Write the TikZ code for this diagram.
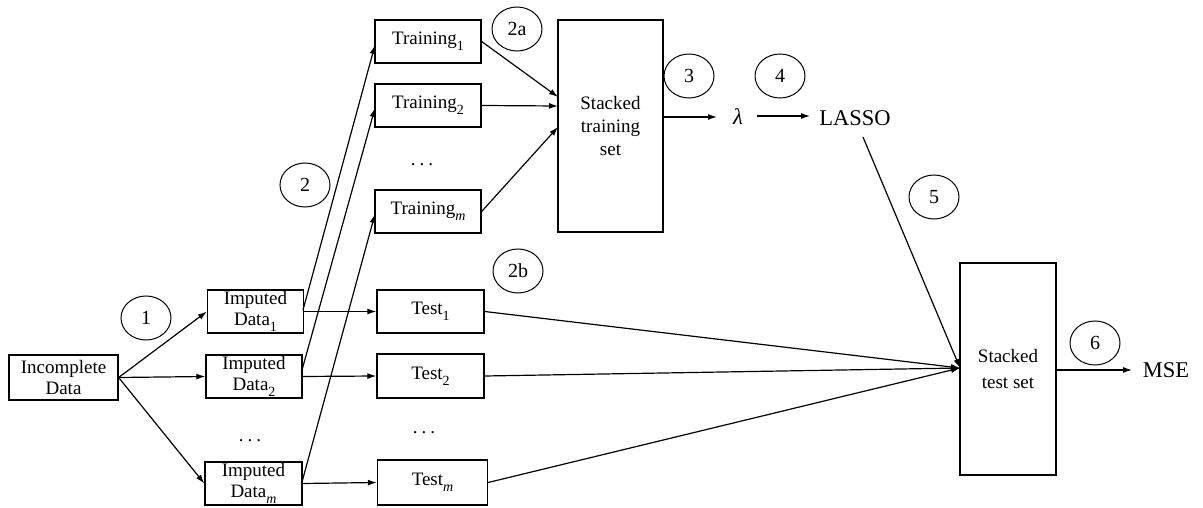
\documentclass[tikz,border=0pt]{standalone}
\usepackage{fontspec}
\setmainfont{Liberation Serif}
\usetikzlibrary{arrows.meta,shapes.geometric}
\newcommand{\mysub}[1]{\raisebox{-0.3em}{\fontsize{14}{14}\selectfont #1}}
\newcommand{\mydots}{.\hspace{4pt}.\hspace{4pt}.}
\begin{document}
\begin{tikzpicture}[x=1pt,y=-1pt,
 box/.style={draw, line width=1.3pt, inner sep=0pt, align=center, font=\fontsize{19}{21}\selectfont},
 num/.style={draw, ellipse, line width=1pt, minimum width=50pt, minimum height=44pt, inner sep=0pt, font=\fontsize{20}{20}\selectfont},
 arr/.style={-{Latex[length=9pt,width=6pt]}, line width=1.2pt},
 big/.style={font=\fontsize{22.5}{24}\selectfont, inner sep=0pt},
 dots/.style={font=\fontsize{19}{19}\selectfont, inner sep=0pt}]
\useasboundingbox (0,0) rectangle (1203,508);

% left column
\node[box, minimum width=109pt, minimum height=45pt] (inc) at (63.5,377.5) {Incomplete\\Data};
\node[box, minimum width=96pt, minimum height=43pt] (im1) at (255.5,311.5) {Imputed\\Data\mysub{1}};
\node[box, minimum width=96pt, minimum height=43pt] (im2) at (254,376.5) {Imputed\\Data\mysub{2}};
\node[dots] (imd) at (250,441) {\mydots};
\node[box, minimum width=97pt, minimum height=43pt] (imm) at (253.5,483.5) {Imputed\\Data\mysub{\itshape m}};

% training column
\node[box, minimum width=106pt, minimum height=43pt] (t1) at (428,41.5) {Training\mysub{1}};
\node[box, minimum width=106pt, minimum height=43pt] (t2) at (428,105.5) {Training\mysub{2}};
\node[dots] (td) at (422,165) {\mydots};
\node[box, minimum width=106pt, minimum height=43pt] (tm) at (428,211.5) {Training\mysub{\itshape m}};

% test column
\node[box, minimum width=107pt, minimum height=43pt] (s1) at (430.5,311.5) {Test\mysub{1}};
\node[box, minimum width=107pt, minimum height=44pt] (s2) at (430.5,376) {Test\mysub{2}};
\node[dots] (sd) at (424,433) {\mydots};
\node[box, minimum width=110pt, minimum height=45pt] (sm) at (432.5,482.5) {Test\mysub{\itshape m}};

% stacked boxes
\node[box, minimum width=105pt, minimum height=212pt, font=\fontsize{19}{23}\selectfont] (st) at (610.5,126) {Stacked\\training\\set};
\node[box, minimum width=96pt, minimum height=212pt, font=\fontsize{19}{25}\selectfont] (ss) at (1008,369) {Stacked\\test set};

% outputs
\node[big, font=\fontsize{22.5}{24}\selectfont\itshape] (lam) at (738,117) {λ};
\node[big] (lasso) at (855,118) {LASSO};
\node[big] (mse) at (1166,370) {MSE};

% step numbers
\node[num] (n1) at (146,318) {1};
\node[num] (n2) at (305,185) {2};
\node[num] (n2a) at (517,29) {2a};
\node[num] (n2b) at (518,271) {2b};
\node[num] (n3) at (689,76) {3};
\node[num] (n4) at (780,76) {4};
\node[num] (n5) at (934,197) {5};
\node[num] (n6) at (1095,343) {6};

% junction points
\coordinate (stin1) at (558,97);
\coordinate (stin2) at (558,106);
\coordinate (stinm) at (558,127);
\coordinate (ssin) at (960,368);
\coordinate (stout) at (663,117);
\coordinate (lamin) at (717,117);
\coordinate (lamout) at (757,116);
\coordinate (lasin) at (810,116);
\coordinate (lasout) at (863,137);
\coordinate (im1o) at (303,310);
\coordinate (im2o) at (302,370);
\coordinate (immo) at (302,482);
\coordinate (t1i) at (375,45);
\coordinate (t2i) at (375,108);
\coordinate (tmi) at (375,214);
\coordinate (sso) at (1056,370);
\coordinate (msein) at (1132,370);

% connectors
\draw[arr] (inc.east) -- (im1.west);
\draw[arr] (inc.east) -- (im2.west);
\draw[arr] (inc.east) -- (imm.west);

\draw[arr] (im1o) -- (t1i);
\draw[arr] (im2o) -- (t2i);
\draw[arr] (immo) -- (tmi);

\draw[arr] (im1.east) -- (s1.west);
\draw[arr] (im2.east) -- (s2.west);
\draw[arr] (imm.east) -- (sm.west);

\draw[arr] (t1.east) -- (stin1);
\draw[arr] (t2.east) -- (stin2);
\draw[arr] (tm.east) -- (stinm);

\draw[arr] (stout) -- (lamin);
\draw[arr] (lamout) -- (lasin);
\draw[arr] (lasout) -- (ssin);

\draw[arr] (s1.east) -- (ssin);
\draw[arr] (s2.east) -- (ssin);
\draw[arr] (sm.east) -- (ssin);

\draw[arr] (sso) -- (msein);
\end{tikzpicture}
\end{document}
